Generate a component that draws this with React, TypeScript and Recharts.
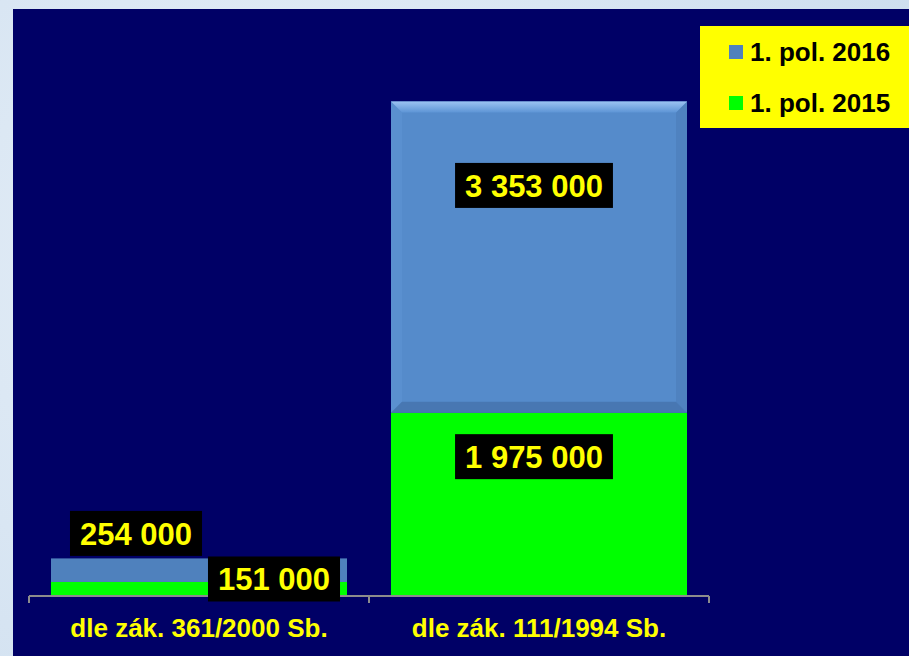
import React from "react";
import { BarChart, Bar, XAxis, YAxis, Legend, LabelList } from "recharts";

const categories = ["dle zák. 361/2000 Sb.", "dle zák. 111/1994 Sb."];
const pol2015 = [151000, 1975000];
const pol2016 = [254000, 3353000];
const seriesNames = { s2016: "1. pol. 2016", s2015: "1. pol. 2015" };

const data = categories.map((name, i) => ({
  name,
  s2015: pol2015[i],
  s2016: pol2016[i],
}));

const NAVY = "#000066";
const YELLOW = "#FFFF00";
const BLUE = "#558BCB";
const BLUE_FLAT = "#4F81BD";
const GREEN = "#00FF00";
const FONT = "'Liberation Sans', Arial, sans-serif";

const W = 896;
const H = 647;
const margin = { top: 30, right: 200, left: 16, bottom: 30 };
const plotW = W - margin.left - margin.right;
const band = plotW / categories.length;

const fmt = (n: number) => String(n).replace(/\B(?=(\d{3})+(?!\d))/g, " ");

function makeLabel(series: "s2015" | "s2016") {
  return (props: any) => {
    const x = Number(props.x);
    const y = Number(props.y);
    const width = Number(props.width);
    const height = Number(props.height);
    const text = fmt(Number(props.value));
    const fs = 31;
    const digits = text.replace(/ /g, "").length;
    const spaces = text.length - digits;
    const w = (digits * 0.556 + spaces * 0.278) * fs + 20;
    const h = 45;
    let cx = x + width / 2;
    let cy: number;
    if (height > 60) {
      // tall segment: label sits in the upper part of the segment
      cx -= 5;
      cy = y + height * (series === "s2016" ? 0.27 : 0.24);
    } else if (series === "s2016") {
      cy = y - 25;
      cx = x + width / 2 - 63;
    } else {
      cy = y + height / 2 - 10;
      cx = x + width / 2 + 75;
    }
    return (
      <g>
        <rect x={cx - w / 2} y={cy - h / 2} width={w} height={h} fill="#000" />
        <text
          x={cx}
          y={cy + fs * 0.358}
          textAnchor="middle"
          fill={YELLOW}
          fontFamily={FONT}
          fontWeight="bold"
          fontSize={fs}
        >
          {text}
        </text>
      </g>
    );
  };
}

const BevelBar = (props: any) => {
  const { x, y, width: w, height: h } = props;
  if (h < 60) {
    return <rect x={x} y={y} width={w} height={h} fill={BLUE_FLAT} />;
  }
  const b = 11;
  return (
    <g>
      <defs>
        <linearGradient id="bevelTop" x1="0" y1="0" x2="0" y2="1">
          <stop offset="0%" stopColor="#9CC3F2" />
          <stop offset="100%" stopColor="#5E95D6" />
        </linearGradient>
      </defs>
      <rect x={x} y={y} width={w} height={h} fill={BLUE} />
      <polygon
        points={`${x},${y} ${x + b},${y + b} ${x + b},${y + h - b} ${x},${y + h}`}
        fill="#5A90D0"
      />
      <polygon
        points={`${x + w},${y} ${x + w},${y + h} ${x + w - b},${y + h - b} ${x + w - b},${y + b}`}
        fill="#4F82C0"
      />
      <polygon
        points={`${x},${y + h} ${x + b},${y + h - b} ${x + w - b},${y + h - b} ${x + w},${y + h}`}
        fill="#4877B2"
      />
      <polygon
        points={`${x},${y} ${x + w},${y} ${x + w - b},${y + b} ${x + b},${y + b}`}
        fill="url(#bevelTop)"
      />
    </g>
  );
};

const CategoryTick = (props: any) => {
  const { x, y, payload } = props;
  return (
    <g>
      <line x1={x - band / 2} y1={y} x2={x - band / 2} y2={y + 7} stroke="#8C8C8C" strokeWidth={2} />
      <line x1={x + band / 2} y1={y} x2={x + band / 2} y2={y + 7} stroke="#8C8C8C" strokeWidth={2} />
      <text
        x={x}
        y={y + 41}
        textAnchor="middle"
        fill={YELLOW}
        fontFamily={FONT}
        fontWeight="bold"
        fontSize={26}
      >
        {payload.value}
      </text>
    </g>
  );
};

const legendItems = [
  { name: seriesNames.s2016, color: BLUE_FLAT },
  { name: seriesNames.s2015, color: GREEN },
];

const LegendBox = () => (
  <div style={{ position: "relative", width: "100%", height: "100%", background: YELLOW }}>
    {legendItems.map((it, i) => (
      <div
        key={it.name}
        style={{
          position: "absolute",
          left: 29,
          top: 26 + i * 51 - 15,
          height: 30,
          display: "flex",
          alignItems: "center",
          fontFamily: FONT,
          fontWeight: "bold",
          fontSize: 26,
          color: "#000",
          whiteSpace: "nowrap",
        }}
      >
        <span style={{ display: "inline-block", width: 14, height: 14, background: it.color, marginRight: 7 }} />
        {it.name}
      </div>
    ))}
  </div>
);

export default function App() {
  return (
    <div
      style={{
        position: "absolute",
        left: 0,
        top: 0,
        width: 909,
        height: 656,
        overflow: "hidden",
        background: "radial-gradient(circle at 30% 40%, #E8F0F8 0%, #D6E4F2 60%, #CCDDEE 100%)",
      }}
    >
      <div style={{ position: "absolute", left: 13, top: 9, width: W, height: H, background: NAVY }}>
        <BarChart width={W} height={H} data={data} margin={margin} barSize={296}>
          <XAxis
            dataKey="name"
            axisLine={{ stroke: "#8C8C8C", strokeWidth: 2 }}
            tickLine={false}
            tickSize={0}
            tickMargin={0}
            height={30}
            tick={<CategoryTick />}
            interval={0}
          />
          <YAxis hide domain={[0, 6000000]} />
          <Legend
            layout="vertical"
            align="center"
            verticalAlign="middle"
            wrapperStyle={{ left: 687, top: 17, width: 209, height: 102 }}
            content={<LegendBox />}
          />
          <Bar dataKey="s2015" name={seriesNames.s2015} stackId="a" fill={GREEN} isAnimationActive={false}>
            <LabelList dataKey="s2015" content={makeLabel("s2015")} />
          </Bar>
          <Bar
            dataKey="s2016"
            name={seriesNames.s2016}
            stackId="a"
            fill={BLUE}
            shape={<BevelBar />}
            isAnimationActive={false}
          >
            <LabelList dataKey="s2016" content={makeLabel("s2016")} />
          </Bar>
        </BarChart>
      </div>
    </div>
  );
}
